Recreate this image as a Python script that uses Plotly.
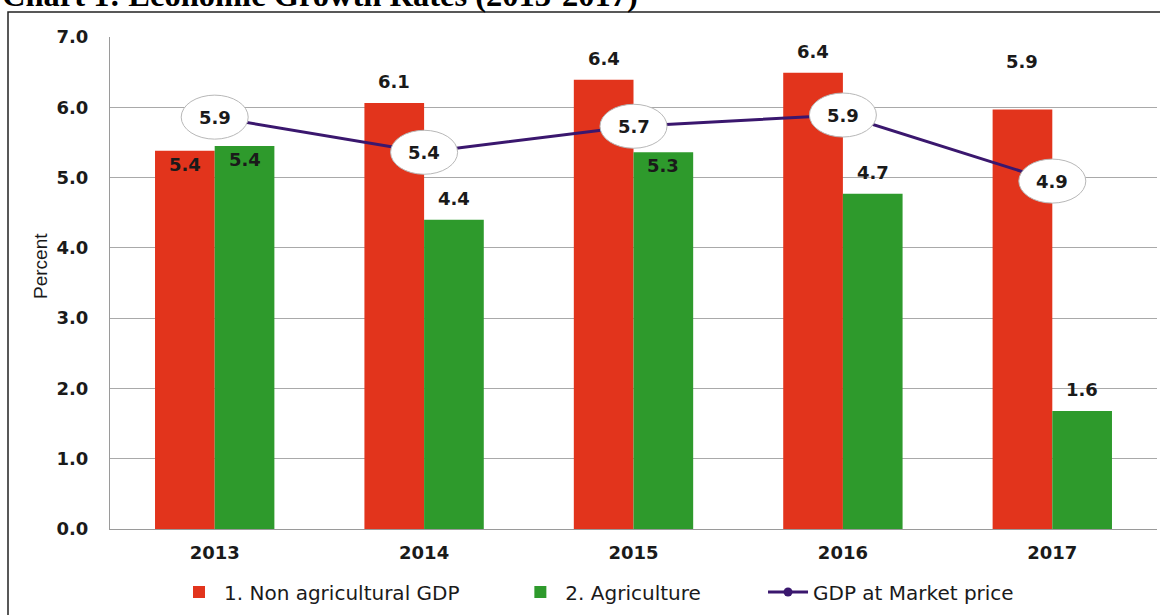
import plotly.graph_objects as go

years = ["2013", "2014", "2015", "2016", "2017"]
non_agri = [5.38, 6.06, 6.39, 6.49, 5.97]
agri = [5.45, 4.40, 5.36, 4.77, 1.68]
gdp = [5.86, 5.36, 5.73, 5.89, 4.95]
non_agri_labels = ["5.4", "6.1", "6.4", "6.4", "5.9"]
agri_labels = ["5.4", "4.4", "5.3", "4.7", "1.6"]
gdp_labels = ["5.9", "5.4", "5.7", "5.9", "4.9"]
non_agri_inside = [True, False, False, False, False]
agri_inside = [True, False, True, False, False]
y_ticks = [0, 1, 2, 3, 4, 5, 6, 7]

# extra label lift (px) where the original moved a label clear of the line
non_agri_lift = [0, 0, 0, 0, 26]
agri_lift = [0, 0, 0, 0, 0]

RED = "#e2341c"
GREEN = "#2e9a2c"
PURPLE = "#3a176e"
TXT = "#1a1a1a"
LBL_FONT = dict(family="DejaVu Sans", size=18, color=TXT)

L, R, T, B = 110, 3, 37, 86
W, H = 1160, 615
pw, ph = W - L - R, H - T - B
BARGAP = 0.43

xpos = list(range(len(years)))

fig = go.Figure()
fig.add_trace(go.Bar(x=xpos, y=non_agri, name="1. Non agricultural GDP" + "\u00a0" * 8,
                     marker=dict(color=RED, line=dict(width=0))))
fig.add_trace(go.Bar(x=xpos, y=agri, name="2. Agriculture" + "\u00a0" * 9,
                     marker=dict(color=GREEN, line=dict(width=0))))
fig.add_trace(go.Scatter(x=xpos, y=gdp, name="GDP at Market price", mode="lines+markers",
                         line=dict(color=PURPLE, width=3), marker=dict(color=PURPLE, size=9)))

# bar value labels (centred on each bar of the group)
bw = (1 - BARGAP) / 2
for s, (vals, labels, inside, lift) in enumerate([(non_agri, non_agri_labels, non_agri_inside, non_agri_lift),
                                                   (agri, agri_labels, agri_inside, agri_lift)]):
    off = (s - 0.5) * bw
    for i, (v, t, ins, lf) in enumerate(zip(vals, labels, inside, lift)):
        fig.add_annotation(x=i + off, y=v, xref="x", yref="y", text="<b>%s</b>" % t, showarrow=False,
                           yanchor="top" if ins else "bottom", yshift=(-1 if ins else 9) + lf,
                           font=LBL_FONT)

# ellipse labels for GDP line
ex = 33.5 / (pw / len(years))
ey = 22 / (ph / 7.0)
for i, (v, t) in enumerate(zip(gdp, gdp_labels)):
    fig.add_shape(type="circle", xref="x", yref="y", x0=i - ex, x1=i + ex, y0=v - ey, y1=v + ey,
                  fillcolor="white", line=dict(color="#b8b8b8", width=1), layer="above")
    fig.add_annotation(x=i, y=v, xref="x", yref="y", text="<b>%s</b>" % t, showarrow=False,
                       font=LBL_FONT)

# y-axis title
fig.add_annotation(xref="paper", yref="paper", x=(40 - L) / pw, y=(H - B - 266) / ph,
                   xanchor="center", yanchor="middle",
                   text="Percent", textangle=-90, showarrow=False,
                   font=dict(family="Liberation Sans", size=19, color=TXT))

# title (partially cut off at top) and frame
fig.add_annotation(xref="paper", yref="paper", x=(0 - L) / pw, y=1 + (T - 15) / ph,
                   xanchor="left", yanchor="bottom", showarrow=False,
                   text="<b>Chart 1: Economic Growth Rates (2013-2017)</b>",
                   font=dict(family="Liberation Serif", size=32.5, color="black"))
fig.add_shape(type="rect", xref="paper", yref="paper",
              x0=(8 - L) / pw, x1=1.1, y0=-0.3, y1=1 + (T - 12) / ph,
              line=dict(color="#222222", width=1.5), fillcolor="rgba(0,0,0,0)", layer="below")

fig.update_layout(
    width=W, height=H, margin=dict(l=L, r=R, t=T, b=B, autoexpand=False),
    paper_bgcolor="white", plot_bgcolor="white",
    barmode="group", bargap=BARGAP, bargroupgap=0,
    showlegend=True,
    legend=dict(orientation="h", x=(174 - L) / pw, xanchor="left", y=-(592 - (H - B)) / ph, yanchor="middle",
                font=dict(family="DejaVu Sans", size=20, color=TXT),
                itemwidth=40, tracegroupgap=0),
    xaxis=dict(range=[-0.5, len(years) - 0.5], tickvals=xpos, ticktext=["<b>%s</b>" % y for y in years],
               showline=True, linecolor="#9a9a9a", linewidth=1, ticks="", showgrid=False, zeroline=False,
               tickfont=dict(family="DejaVu Sans", size=18, color=TXT),
               ticklabelstandoff=7),
    yaxis=dict(range=[0, 7], tickvals=y_ticks, ticktext=["<b>%.1f</b>" % v for v in y_ticks],
               showgrid=True, gridcolor="#a9a9a9", gridwidth=1, zeroline=False,
               showline=True, linecolor="#9a9a9a", linewidth=1, ticks="",
               tickfont=dict(family="DejaVu Sans", size=18, color=TXT),
               ticklabelstandoff=17),
)

fig.write_html("out.html", config={"displayModeBar": False},
               post_script="document.body.style.margin='0';")
